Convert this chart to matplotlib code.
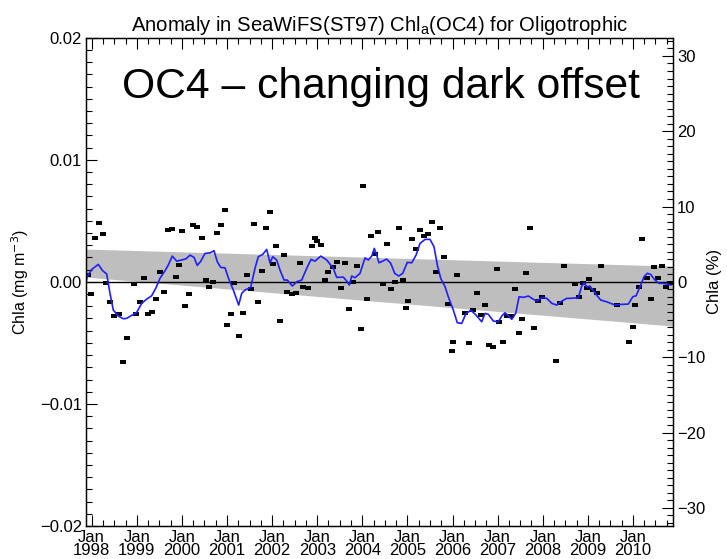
import numpy as np
import matplotlib
matplotlib.use("Agg")
import matplotlib.pyplot as plt
from matplotlib.ticker import MultipleLocator

plt.rcParams['font.family'] = ['Liberation Sans', 'DejaVu Sans']

# monthly anomaly points (decimal year, anomaly in 1e-4 mg m^-3)
pt_year = [1997.925, 1997.978, 1998.073, 1998.162, 1998.244, 1998.317, 1998.404, 1998.501,
           1998.605, 1998.687, 1998.776, 1998.945, 1998.982, 1999.071, 1999.160, 1999.255,
           1999.330, 1999.426, 1999.514, 1999.603, 1999.698, 1999.787, 1999.869, 1999.942,
           1999.996, 2000.075, 2000.164, 2000.253, 2000.341, 2000.439, 2000.534, 2000.608,
           2000.696, 2000.778, 2000.874, 2000.962, 2001.010, 2001.089, 2001.162, 2001.259,
           2001.348, 2001.437, 2001.525, 2001.605, 2001.694, 2001.783, 2001.865, 2001.960,
           2002.013, 2002.086, 2002.175, 2002.264, 2002.337, 2002.435, 2002.530, 2002.619,
           2002.692, 2002.803, 2002.878, 2002.951, 2002.989, 2003.078, 2003.173, 2003.246,
           2003.357, 2003.446, 2003.528, 2003.616, 2003.712, 2003.800, 2003.889, 2003.965,
           2004.009, 2004.098, 2004.186, 2004.282, 2004.355, 2004.452, 2004.541, 2004.630,
           2004.718, 2004.807, 2004.896, 2004.969, 2005.020, 2005.102, 2005.191, 2005.279,
           2005.368, 2005.457, 2005.545, 2005.634, 2005.723, 2005.811, 2005.894, 2005.989,
           2006.018, 2006.106, 2006.277, 2006.372, 2006.461, 2006.550, 2006.638, 2006.714,
           2006.803, 2006.891, 2006.980, 2007.024, 2007.113, 2007.202, 2007.290, 2007.379,
           2007.468, 2007.548, 2007.636, 2007.725, 2007.814, 2007.902, 2007.991, 2008.295,
           2008.384, 2008.472, 2008.717, 2008.812, 2008.900, 2008.976, 2009.033, 2009.122,
           2009.211, 2009.286, 2009.641, 2009.907, 2009.996, 2010.047, 2010.135, 2010.208,
           2010.306, 2010.395, 2010.475, 2010.563, 2010.652, 2010.734, 2010.823]
pt_anom = [5.6, -10.0, 35.6, 48.4, 38.9, -0.7, -16.3, -28.0,
           -26.4, -65.4, -46.3, -1.8, -26.4, -16.3, 2.9, -26.4,
           -24.7, -14.1, 7.8, -8.1, 42.4, 43.2, 3.9, 14.0,
           41.9, -20.1, -10.2, 46.5, 45.1, 35.6, 1.2, -4.5,
           0.1, 39.7, 46.3, 58.8, -35.4, -26.4, -1.2, -44.1,
           -25.8, 5.3, -5.7, 47.1, -16.8, 8.8, 44.3, 57.4,
           14.8, 29.3, -32.4, 21.9, -8.1, -10.0, -8.9, 15.4,
           -4.0, -5.3, 29.1, 35.6, 33.4, 30.4, 1.5, 7.8,
           11.9, 16.0, -5.3, 15.6, -22.0, -0.2, 12.9, -38.7,
           78.7, -13.8, 37.5, 22.5, 41.0, -1.8, 31.2, -6.1,
           -0.2, 44.1, 1.5, -21.5, -15.5, 35.1, 26.9, 42.2,
           37.5, 39.4, 49.0, 8.0, 44.1, 20.1, -17.9, -56.9,
           -49.3, 5.6, -25.8, -50.4, -23.1, -8.9, -26.9, -18.8,
           -51.5, -53.2, 10.2, -32.7, -49.3, -27.8, -27.8, -6.1,
           -41.9, -30.7, 7.2, 44.1, -37.8, -15.5, -12.2, -64.6,
           -17.4, 13.2, -1.8, -12.2, -0.7, -5.3, 2.0, -6.7,
           -8.9, 12.9, -19.2, -49.1, -37.3, -19.2, -4.0, 35.1,
           3.4, -13.8, 11.9, 3.4, 12.7, -4.0, -1.0]

# smoothed anomaly (blue curve)
sm_year = [1997.851, 1997.902, 1998.000, 1998.146, 1998.244, 1998.333, 1998.406, 1998.479,
           1998.590, 1998.701, 1998.776, 1998.887, 1998.998, 1999.109, 1999.220, 1999.330,
           1999.426, 1999.514, 1999.625, 1999.698, 1999.787, 1999.885, 1999.996, 2000.091,
           2000.180, 2000.268, 2000.341, 2000.417, 2000.512, 2000.623, 2000.712, 2000.785,
           2000.860, 2000.956, 2001.029, 2001.140, 2001.259, 2001.326, 2001.399, 2001.525,
           2001.621, 2001.694, 2001.792, 2001.880, 2001.953, 2002.013, 2002.102, 2002.175,
           2002.264, 2002.337, 2002.448, 2002.545, 2002.656, 2002.767, 2002.863, 2002.951,
           2003.078, 2003.211, 2003.357, 2003.432, 2003.579, 2003.654, 2003.712, 2003.765,
           2003.838, 2003.949, 2004.060, 2004.133, 2004.208, 2004.266, 2004.319, 2004.370,
           2004.452, 2004.541, 2004.630, 2004.718, 2004.807, 2004.896, 2004.998, 2005.095,
           2005.191, 2005.279, 2005.390, 2005.501, 2005.590, 2005.663, 2005.738, 2005.834,
           2005.907, 2006.018, 2006.106, 2006.204, 2006.293, 2006.404, 2006.499, 2006.572,
           2006.647, 2006.721, 2006.794, 2006.905, 2007.016, 2007.091, 2007.164, 2007.237,
           2007.313, 2007.401, 2007.475, 2007.570, 2007.681, 2007.792, 2007.880, 2007.978,
           2008.089, 2008.200, 2008.311, 2008.399, 2008.532, 2008.605, 2008.789, 2008.865,
           2008.916, 2008.976, 2009.049, 2009.122, 2009.211, 2009.286, 2009.419, 2009.603,
           2009.752, 2009.898, 2009.996, 2010.069, 2010.157, 2010.246, 2010.319, 2010.395,
           2010.475, 2010.579, 2010.674, 2010.750, 2010.838]
sm_anom = [-4.0, 4.2, 10.2, 14.3, 9.1, 6.4, -9.4, -23.1,
           -28.0, -30.2, -29.9, -27.4, -25.0, -17.6, -14.1, -11.4,
           -4.8, 2.9, 9.1, 13.8, 21.1, 17.0, 17.9, 18.9,
           21.9, 20.1, 13.5, 16.8, 23.3, 23.8, 25.5, 16.5,
           11.9, 11.5, 3.4, -6.7, -19.0, -9.4, -6.7, -4.5,
           11.1, 20.6, 22.5, 26.6, 15.6, 20.6, 17.9, 9.7,
           1.5, 1.5, -3.4, 0.1, 1.5, 11.1, 18.4, 17.0,
           21.1, 17.9, 11.1, 3.7, 3.9, 0.7, -2.6, 4.8,
           3.4, 7.0, 19.7, 17.9, 21.1, 27.4, 21.9, 15.6,
           17.0, 18.7, 15.2, 7.0, 4.8, 7.0, 16.0, 15.6,
           21.9, 31.5, 34.8, 34.8, 28.7, 13.8, 2.9, -4.0,
           -12.2, -23.1, -33.5, -34.0, -26.4, -23.1, -26.4, -29.4,
           -32.7, -25.8, -26.6, -32.1, -32.7, -28.0, -25.3, -27.8,
           -30.7, -25.8, -12.2, -12.7, -11.6, -14.3, -15.7, -12.7,
           -13.5, -17.6, -19.0, -16.3, -13.5, -13.5, -13.0, -3.4,
           -0.7, -4.0, -3.4, -7.3, -11.6, -14.9, -16.3, -19.0,
           -18.4, -18.2, -12.2, -11.4, -4.0, 4.2, 7.0, 6.1,
           2.0, -1.2, -1.2, -1.8, -2.6]

# trend uncertainty envelope (grey)
band_year = [1997.874, 2010.888]
band_upper = [26.9, 12.9]
band_lower = [3.9, -36.2]

mean_chl = 0.0617  # mg m^-3, for the % axis
years = list(range(1998, 2011))

pt_y = np.array(pt_anom) * 1e-4
sm_y = np.array(sm_anom) * 1e-4

fig = plt.figure(figsize=(7.27, 5.59), dpi=100)
ax = fig.add_axes([0.1183, 0.059, 0.8074, 0.8735])

ax.fill_between(band_year, np.array(band_lower) * 1e-4, np.array(band_upper) * 1e-4,
                color='#bebebe', linewidth=0, zorder=1)
ax.axhline(0, color='black', linewidth=1.0, zorder=2)
ax.errorbar(pt_year, pt_y, yerr=0.00008, fmt='none', ecolor='black', elinewidth=0.9,
            capsize=2.2, capthick=1.4, zorder=3)
ax.plot(sm_year, sm_y, color='#1f1fff', linewidth=1.2, zorder=4)

ax.set_xlim(1997.874, 2010.888)
ax.set_ylim(-0.02, 0.02)
ax.set_xticks(years)
ax.set_xticklabels(['Jan\n%d' % y for y in years], linespacing=0.85)
ax.xaxis.set_minor_locator(MultipleLocator(0.25))
ax.set_yticks([-0.02, -0.01, 0.0, 0.01, 0.02])
ax.set_yticklabels(['\u22120.02', '\u22120.01', '0.00', '0.01', '0.02'])
ax.yaxis.set_minor_locator(MultipleLocator(0.001))
ax.tick_params(which='both', direction='in', top=True, right=False, labelsize=12, pad=3)
ax.tick_params(which='major', length=8, width=0.8)
ax.tick_params(which='minor', length=4, width=0.8)
ax.set_ylabel('Chla (mg m$^{-3}$)', fontsize=11.5, labelpad=6)
ax.set_title('Anomaly in SeaWiFS(ST97) Chl$_\\mathregular{a}$(OC4) for Oligotrophic',
             fontsize=14.6, pad=5)
ax.text(0.062, 0.876, 'OC4 \u2013 changing dark offset', transform=ax.transAxes,
        fontsize=30.7, va='baseline', ha='left')

ax2 = ax.twinx()
lim = 0.02 / mean_chl * 100
ax2.set_ylim(-lim, lim)
ax2.set_yticks([-30, -20, -10, 0, 10, 20, 30])
ax2.set_yticklabels(['\u221230', '\u221220', '\u221210', '0', '10', '20', '30'])
ax2.yaxis.set_minor_locator(MultipleLocator(1))
ax2.tick_params(which='both', direction='in', labelsize=12, pad=3)
ax2.tick_params(which='major', length=8, width=0.8)
ax2.tick_params(which='minor', length=4, width=0.8)
ax2.set_ylabel('Chla (%)', fontsize=12, labelpad=1)

for a in (ax, ax2):
    for s in a.spines.values():
        s.set_linewidth(0.9)

fig.savefig('out.png', dpi=100)
